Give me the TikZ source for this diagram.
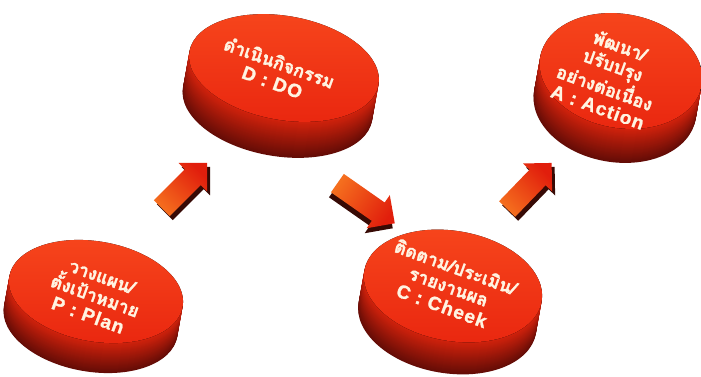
\documentclass[tikz,border=0pt]{standalone}
\usepackage{fontspec}
\newfontfamily\thaifont[Script=Thai, FakeBold=1.6]{Loma}
\newfontfamily\latinfont[FakeBold=1.2, LetterSpace=6]{Liberation Sans}
\usetikzlibrary{shapes.arrows}
\definecolor{facelight}{RGB}{247,70,28}
\definecolor{facered}{RGB}{234,40,16}
\definecolor{sidered}{RGB}{210,34,12}
\definecolor{sidedark}{RGB}{100,12,6}
\definecolor{txt}{RGB}{255,244,226}
\definecolor{arrowdark}{RGB}{55,10,5}
\definecolor{arrowred}{RGB}{225,30,12}
\definecolor{arroworange}{RGB}{245,110,30}
\tikzset{
  pics/disc/.style n args={4}{code={
    \foreach \i in {#3,...,1}{
      \pgfmathtruncatemacro\m{100*\i/#3}
      \fill[sidedark!\m!sidered] (-0.18*\i,-\i) ellipse [x radius=#1, y radius=#2, rotate=-10];
    }
    \fill[top color=facelight, bottom color=facered] (0,0) ellipse [x radius=#1, y radius=#2, rotate=-10];
  }},
  disctext/.style={text=txt, align=center, rotate=-20, inner sep=0pt,
    font=\thaifont\bfseries\fontsize{18}{20.5}\selectfont},
  blockarrow/.style={single arrow, inner xsep=0pt, inner ysep=11pt,
    single arrow head extend=9pt, minimum height=#1, draw=none},
  arrowshadow/.style={blockarrow=#1, fill=arrowdark},
  arrowbody/.style={blockarrow=#1, top color=arrowred, bottom color=arroworange}
}
\newcommand{\lat}[1]{{\latinfont\bfseries\fontsize{19}{20.5}\selectfont #1}}
\begin{document}
\begin{tikzpicture}[x=1pt,y=1pt]
\useasboundingbox[fill=white] (0,0) rectangle (701,377);
% discs
\pic (pdisc) at (96,85.5) {disc={88}{50}{30}};
\pic (ddisc) at (284,309) {disc={96}{52}{36}};
\pic (cdisc) at (453,91) {disc={90}{55}{32}};
\pic (adisc) at (621,306) {disc={82}{57}{34}};
% arrows
\node[arrowshadow=64pt, rotate=45] (a1s) at (183.5,183.5) {};
\node[arrowbody=64pt, rotate=45, shading angle=-45] (a1) at (180.5,187.5) {};
\node[arrowshadow=70pt, rotate=-35] (a2s) at (359.5,172) {};
\node[arrowbody=70pt, rotate=-35, shading angle=-125] (a2) at (361.5,177) {};
\node[arrowshadow=64pt, rotate=46] (a3s) at (528.5,183) {};
\node[arrowbody=64pt, rotate=46, shading angle=-46] (a3) at (525.5,187) {};
% texts
\node[disctext] (ptext) at (95,81) {วางแผน/\\ตั้งเป้าหมาย\\\lat{P : Plan}};
\node[disctext] (dtext) at (276,305) {ดำเนินกิจกรรม\\\lat{D : DO}};
\node[disctext] (ctext) at (449,91) {ติดตาม/ประเมิน/\\รายงานผล\\\lat{C : Cheek}};
\node[disctext] (atext) at (609,301) {พัฒนา/\\ปรับปรุง\\อย่างต่อเนื่อง\\\lat{A : Action}};
\end{tikzpicture}
\end{document}
